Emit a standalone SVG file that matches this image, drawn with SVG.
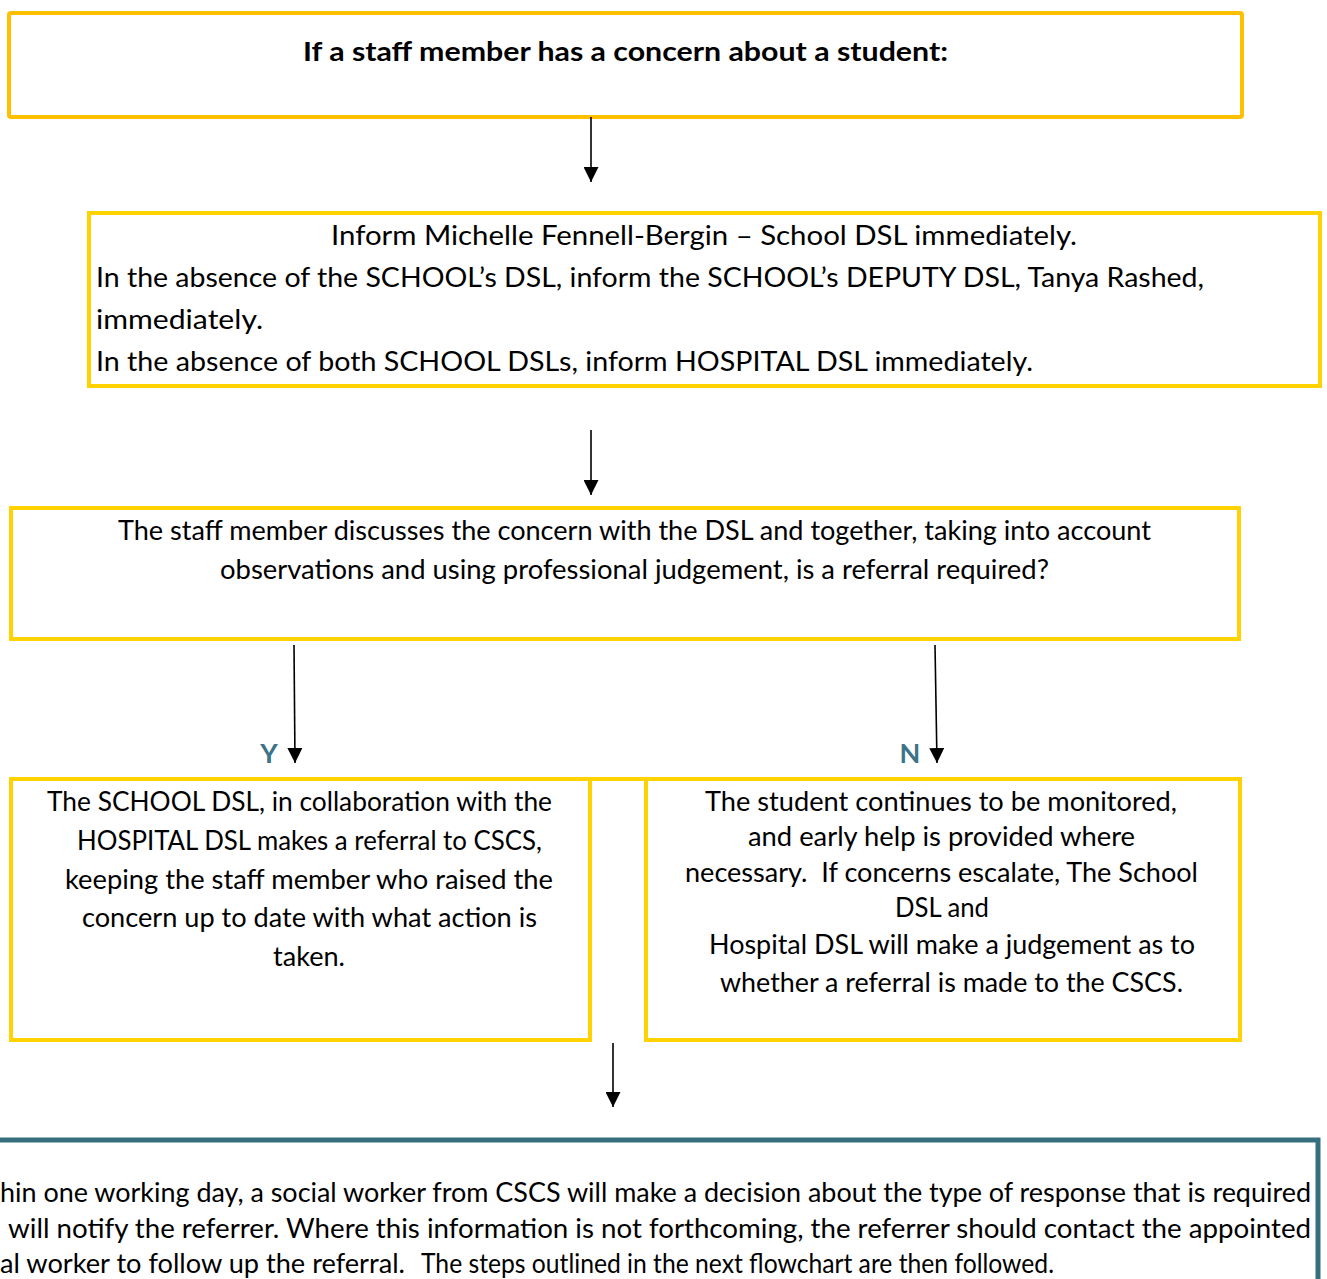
<svg xmlns="http://www.w3.org/2000/svg" width="1327" height="1279" viewBox="0 0 1327 1279">
<style>
text{font-family:Lato,"Open Sans","Liberation Sans",sans-serif;fill:#000;font-size:26px}
.b{font-weight:bold}
.box{fill:#fff;stroke:#FFD200;stroke-width:4}
.top{fill:#fff;stroke:#FFC000;stroke-width:4}
.teal{fill:#fff;stroke:#36707F;stroke-width:5}
.lbl{fill:#3B7388;font-weight:bold;font-size:27px}
.c{text-anchor:middle}
.pre{white-space:pre}
.conn line{stroke:#000;stroke-width:1.6;marker-end:url(#ah)}
</style>
<defs>
<marker id="ah" viewBox="0 0 15 15" markerUnits="userSpaceOnUse" markerWidth="15" markerHeight="15" refX="15" refY="7.5" orient="auto">
<path d="M0,0 L15,7.5 L0,15 z" fill="#000"/>
</marker>
</defs>
<rect width="1327" height="1279" fill="#fff"/>

<g id="node-start">
<rect class="top" x="9" y="13" width="1233" height="104" rx="2"/>
<text class="b c" x="625.5" y="61" textLength="645" lengthAdjust="spacingAndGlyphs">If a staff member has a concern about a student:</text>
</g>

<g id="node-inform">
<rect class="box" x="89" y="213" width="1231" height="173"/>
<text class="c" x="704" y="245" textLength="746" lengthAdjust="spacingAndGlyphs">Inform Michelle Fennell-Bergin – School DSL immediately.</text>
<text x="96" y="287" textLength="1108" lengthAdjust="spacingAndGlyphs">In the absence of the SCHOOL’s DSL, inform the SCHOOL’s DEPUTY DSL, Tanya Rashed,</text>
<text x="96" y="329" textLength="167" lengthAdjust="spacingAndGlyphs">immediately.</text>
<text x="96" y="371" textLength="937" lengthAdjust="spacingAndGlyphs">In the absence of both SCHOOL DSLs, inform HOSPITAL DSL immediately.</text>
</g>

<g id="node-discuss">
<rect class="box" x="11" y="508" width="1228" height="131"/>
<text class="c" x="634.5" y="540" textLength="1033" lengthAdjust="spacingAndGlyphs">The staff member discusses the concern with the DSL and together, taking into account</text>
<text class="c" x="634.5" y="579" textLength="829" lengthAdjust="spacingAndGlyphs">observations and using professional judgement, is a referral required?</text>
</g>

<g id="node-yes">
<rect class="box" x="11" y="779" width="579" height="261"/>
<line x1="590" y1="779" x2="646" y2="779" stroke="#FFD200" stroke-width="4"/>
<text class="c" x="299.5" y="811" textLength="505" lengthAdjust="spacingAndGlyphs">The SCHOOL DSL, in collaboration with the</text>
<text class="c" x="309.5" y="850" textLength="465" lengthAdjust="spacingAndGlyphs">HOSPITAL DSL makes a referral to CSCS,</text>
<text class="c" x="309" y="889" textLength="488" lengthAdjust="spacingAndGlyphs">keeping the staff member who raised the</text>
<text class="c" x="309.5" y="927" textLength="455" lengthAdjust="spacingAndGlyphs">concern up to date with what action is</text>
<text class="c" x="309" y="966" textLength="72" lengthAdjust="spacingAndGlyphs">taken.</text>
</g>

<g id="node-no">
<rect class="box" x="646" y="779" width="594" height="261"/>
<text class="c" x="941" y="811" textLength="472" lengthAdjust="spacingAndGlyphs">The student continues to be monitored,</text>
<text class="c" x="941.5" y="846" textLength="387" lengthAdjust="spacingAndGlyphs">and early help is provided where</text>
<text class="c pre" x="941.5" y="882" textLength="513" lengthAdjust="spacingAndGlyphs">necessary.  If concerns escalate, The School</text>
<text class="c" x="942" y="917" textLength="94" lengthAdjust="spacingAndGlyphs">DSL and</text>
<text class="c" x="952" y="954" textLength="486" lengthAdjust="spacingAndGlyphs">Hospital DSL will make a judgement as to</text>
<text class="c" x="951.5" y="992" textLength="463" lengthAdjust="spacingAndGlyphs">whether a referral is made to the CSCS.</text>
</g>

<g id="node-outcome">
<rect class="teal" x="-10" y="1140" width="1328" height="170"/>
<text x="0" y="1202" textLength="1311" lengthAdjust="spacingAndGlyphs">hin one working day, a social worker from CSCS will make a decision about the type of response that is required</text>
<text x="8" y="1238" textLength="1303" lengthAdjust="spacingAndGlyphs">will notify the referrer. Where this information is not forthcoming, the referrer should contact the appointed</text>
<text x="0" y="1273" textLength="405" lengthAdjust="spacingAndGlyphs">al worker to follow up the referral.</text>
<text x="421" y="1273" font-size="22" textLength="633" lengthAdjust="spacingAndGlyphs">The steps outlined in the next flowchart are then followed.</text>
</g>

<g id="labels">
<text class="lbl" x="269" y="763" text-anchor="middle">Y</text>
<text class="lbl" x="910" y="763" text-anchor="middle">N</text>
</g>

<g id="connectors" class="conn">
<line x1="591" y1="117" x2="591" y2="182"/>
<line x1="591" y1="430" x2="591" y2="495"/>
<line x1="294" y1="645" x2="295" y2="763"/>
<line x1="935" y1="645" x2="937" y2="763"/>
<line x1="613" y1="1043" x2="613" y2="1107"/>
</g>
</svg>
